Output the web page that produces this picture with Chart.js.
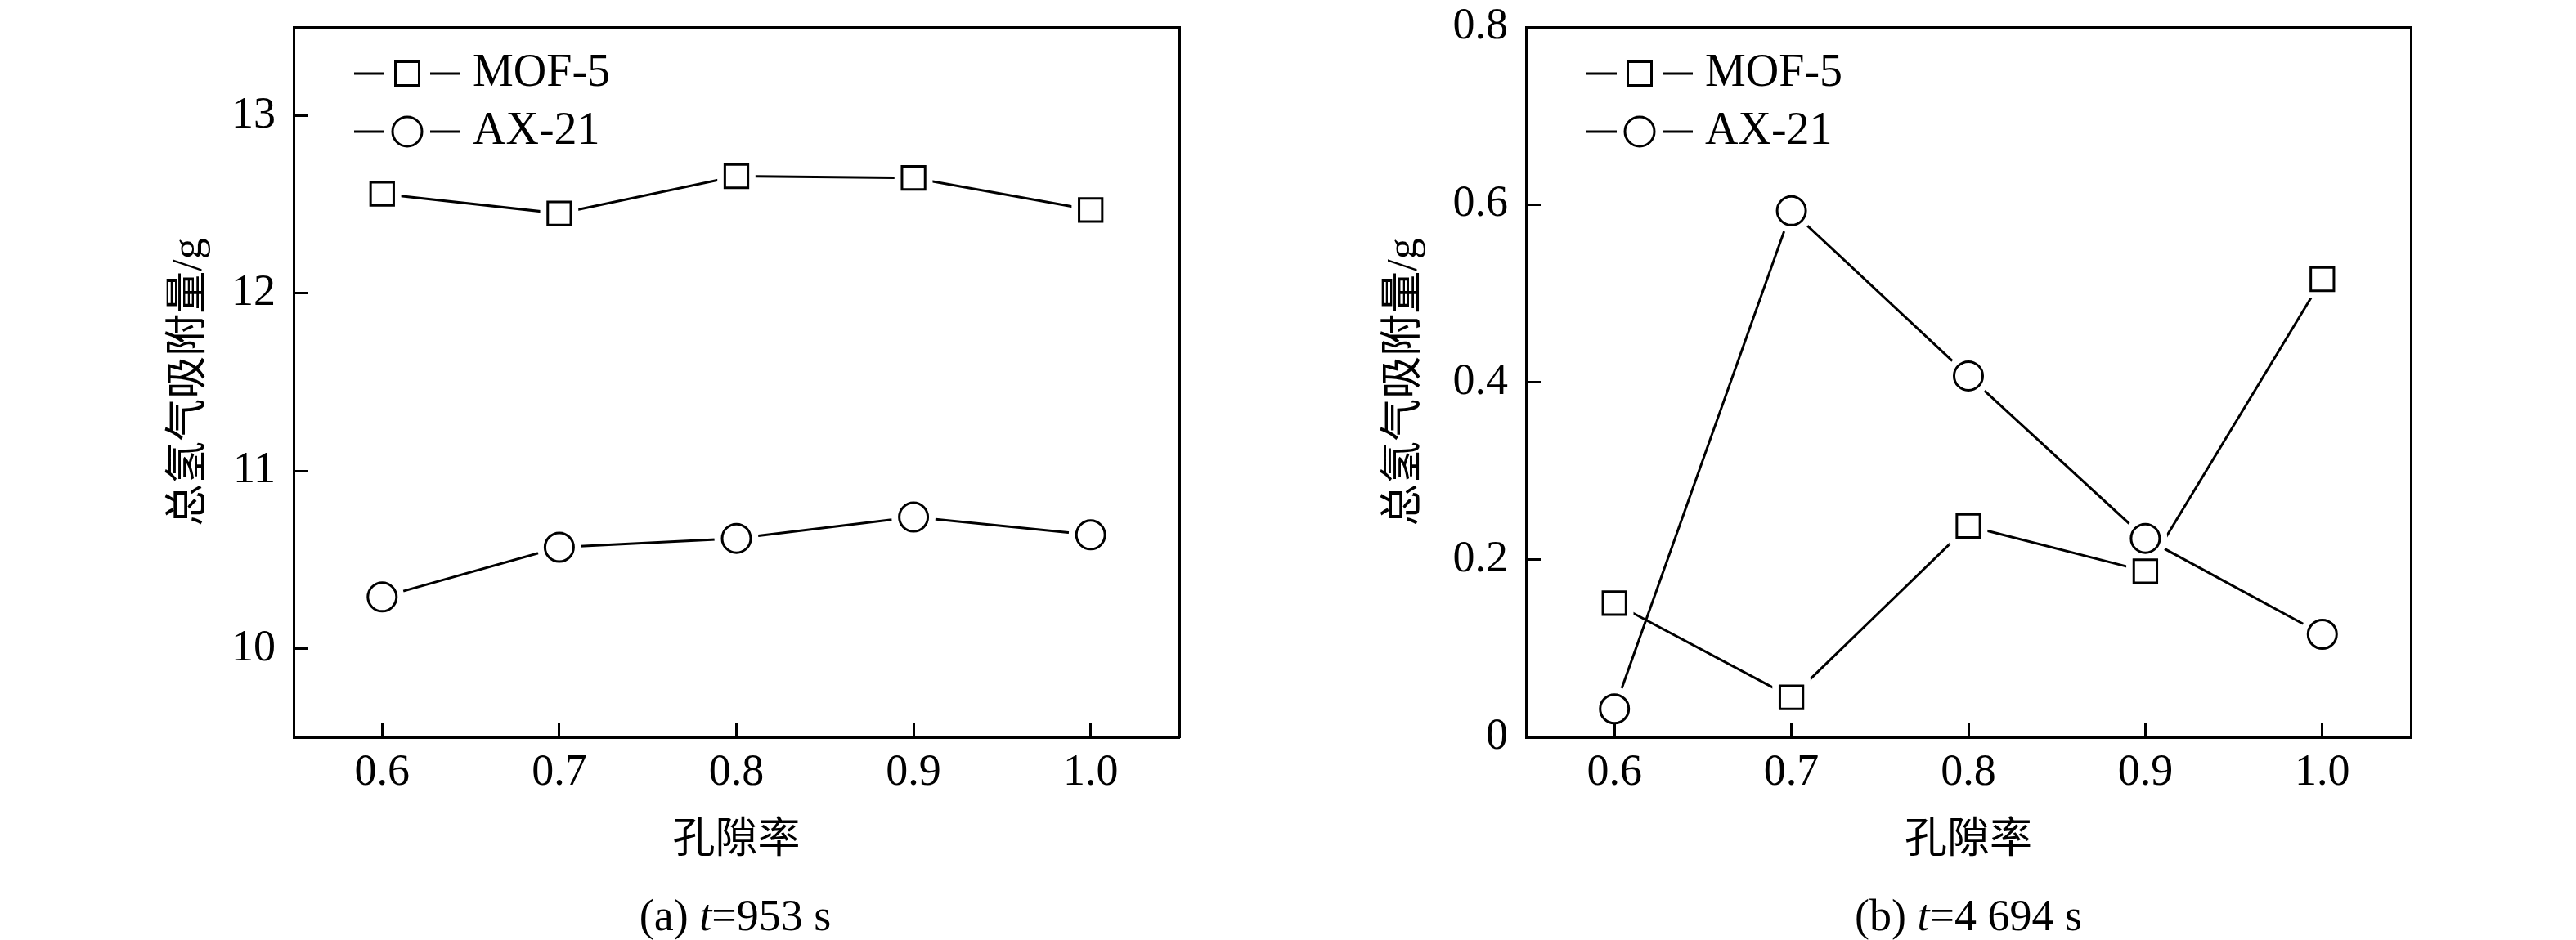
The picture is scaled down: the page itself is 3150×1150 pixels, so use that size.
<!DOCTYPE html>
<html>
<head>
<meta charset="utf-8">
<script src="https://cdn.jsdelivr.net/npm/chart.js@4.4.1/dist/chart.umd.min.js"></script>
<style>
body { margin: 0; background: #fff; }
#wrap { position: relative; width: 3150px; height: 1150px; }
canvas { position: absolute; top: 0; }
#chartA { left: 0; }
#chartB { left: 1575px; }
.caption {
    position: absolute; top: 1120px;
    transform: translate(-50%, -50%);
    font: 54px 'Liberation Serif', serif; color: #000; white-space: nowrap;
}
</style>
</head>
<body>
<div id="wrap">
    <canvas id="chartA" width="1575" height="1075"></canvas>
    <canvas id="chartB" width="1575" height="1075"></canvas>
    <div class="caption" style="left:899px">(a) <i>t</i>=953 s</div>
    <div class="caption" style="left:2407px">(b) <i>t</i>=4 694 s</div>
</div>
<script>
// data
var porosity = [0.6, 0.7, 0.8, 0.9, 1.0];
var xTicks = [0.6, 0.7, 0.8, 0.9, 1.0];
var seriesNames = ['MOF-5', 'AX-21'];

// (a) t = 953 s
var mofA = [12.56, 12.45, 12.66, 12.65, 12.47];
var axA = [10.29, 10.57, 10.62, 10.74, 10.64];
var yTicksA = [10, 11, 12, 13];

// (b) t = 4 694 s
var mofB = [0.151, 0.045, 0.238, 0.187, 0.516];
var axB = [0.032, 0.593, 0.407, 0.224, 0.116];
var yTicksB = [0, 0.2, 0.4, 0.6, 0.8];

var serif = "'Liberation Serif', 'Times New Roman', serif";
var cjk = "'Liberation Serif', 'Noto Sans CJK SC', serif";

function points(vals) {
    var out = [];
    for (var i in vals) {
        out.push({ x: porosity[i], y: vals[i] });
    }
    return out;
}

// legend symbol: line - marker - line
function legendIcon(kind) {
    var c = document.createElement('canvas');
    c.width = 202;
    c.height = 40;
    var g = c.getContext('2d');
    g.strokeStyle = '#000';
    g.lineWidth = 3;
    g.beginPath();
    g.moveTo(72, 20); g.lineTo(109, 20);
    g.moveTo(165, 20); g.lineTo(202, 20);
    g.stroke();
    g.beginPath();
    if (kind === 'rect') {
        g.rect(122.5, 5.5, 29, 29);
    } else {
        g.arc(137, 20, 18, 0, Math.PI * 2);
    }
    g.stroke();
    return c;
}

var styles = ['rect', 'circle'];
var markerRadius = [20, 17.5];
var haloRadius = [33, 27];

function buildDatasets(series) {
    var sets = [];
    series.forEach(function (vals, k) {
        var pts = points(vals);
        sets.push({
            label: seriesNames[k], data: pts, showLine: true,
            borderColor: '#000', borderWidth: 3, pointRadius: 0, order: 3
        });
        sets.push({
            label: seriesNames[k] + ' halo', data: pts, showLine: false,
            pointStyle: styles[k], pointRadius: haloRadius[k],
            pointBackgroundColor: '#fff', pointBorderColor: '#fff', pointBorderWidth: 0, order: 2
        });
        sets.push({
            label: seriesNames[k] + ' marker', data: pts, showLine: false,
            pointStyle: styles[k], pointRadius: markerRadius[k],
            pointBackgroundColor: '#fff', pointBorderColor: '#000', pointBorderWidth: 3, order: 1
        });
    });
    return sets;
}

function makeChart(id, series, yMin, yMax, yTicks, fmt, yWidth, padRight, titlePad) {
    var icons = [legendIcon('rect'), legendIcon('circle')];

    return new Chart(document.getElementById(id), {
        type: 'scatter',
        data: { datasets: buildDatasets(series) },
        options: {
            responsive: false,
            animation: false,
            events: [],
            layout: { padding: { top: 30, left: 0, right: padRight, bottom: 0 } },
            plugins: {
                tooltip: { enabled: false },
                legend: {
                    position: 'chartArea',
                    align: 'start',
                    title: { display: true, text: '', font: { size: 47, lineHeight: 1 }, padding: 0 },
                    labels: {
                        usePointStyle: true,
                        pointStyleWidth: 176,
                        padding: 15,
                        color: '#000',
                        font: { family: serif, size: 56, lineHeight: 1 },
                        generateLabels: function () {
                            return seriesNames.map(function (name, k) {
                                return {
                                    text: name, pointStyle: icons[k], fontColor: '#000',
                                    lineWidth: 0, hidden: false, datasetIndex: k * 3
                                };
                            });
                        }
                    }
                }
            },
            scales: {
                x: {
                    type: 'linear', position: 'bottom', min: 0.55, max: 1.05,
                    afterBuildTicks: function (s) {
                        s.ticks = xTicks.map(function (v) { return { value: v }; });
                    },
                    afterFit: function (s) {
                        s.height = 173;
                        s.paddingLeft = 0;
                        s.paddingRight = 0;
                    },
                    grid: { drawOnChartArea: false, tickLength: -17, tickWidth: 3, color: '#000', z: 1 },
                    border: { color: '#000', width: 3, z: 1 },
                    ticks: {
                        color: '#000', padding: 28, maxRotation: 0, autoSkip: false,
                        font: { family: serif, size: 54, lineHeight: 1.2 },
                        callback: function (v) { return v.toFixed(1); }
                    },
                    title: {
                        display: true, text: '孔隙率', color: '#000',
                        font: { family: cjk, size: 52, lineHeight: 1.2 },
                        padding: { top: 0, bottom: 14 }
                    }
                },
                y: {
                    type: 'linear', position: 'left', min: yMin, max: yMax,
                    afterBuildTicks: function (s) {
                        s.ticks = yTicks.map(function (v) { return { value: v }; });
                    },
                    afterFit: function (s) {
                        s.width = yWidth;
                        s.paddingTop = 0;
                        s.paddingBottom = 0;
                    },
                    grid: { drawOnChartArea: false, tickLength: -18, tickWidth: 3, color: '#000', z: 1 },
                    border: { color: '#000', width: 3, z: 1 },
                    ticks: {
                        color: '#000', padding: 40,
                        font: { family: serif, size: 54, lineHeight: 1 },
                        callback: fmt
                    },
                    title: {
                        display: true, text: '总氢气吸附量/g', color: '#000',
                        font: { family: cjk, size: 52, lineHeight: 1.2 },
                        padding: { top: titlePad, bottom: 0 }
                    }
                },
                x2: {
                    type: 'linear', position: 'top', min: 0.55, max: 1.05,
                    grid: { display: false, drawTicks: false },
                    ticks: { display: false },
                    border: { color: '#000', width: 3, z: 1 }
                },
                y2: {
                    type: 'linear', position: 'right', min: yMin, max: yMax,
                    grid: { display: false, drawTicks: false },
                    ticks: { display: false },
                    border: { color: '#000', width: 3, z: 1 }
                }
            }
        }
    });
}

makeChart('chartA', [mofA, axA], 9.5, 13.5, yTicksA,
    function (v) { return String(v); }, 359, 133, 201);

makeChart('chartB', [mofB, axB], 0, 0.8, yTicksB,
    function (v) { return v === 0 ? '0' : v.toFixed(1); }, 291, 202, 112);
</script>
</body>
</html>
